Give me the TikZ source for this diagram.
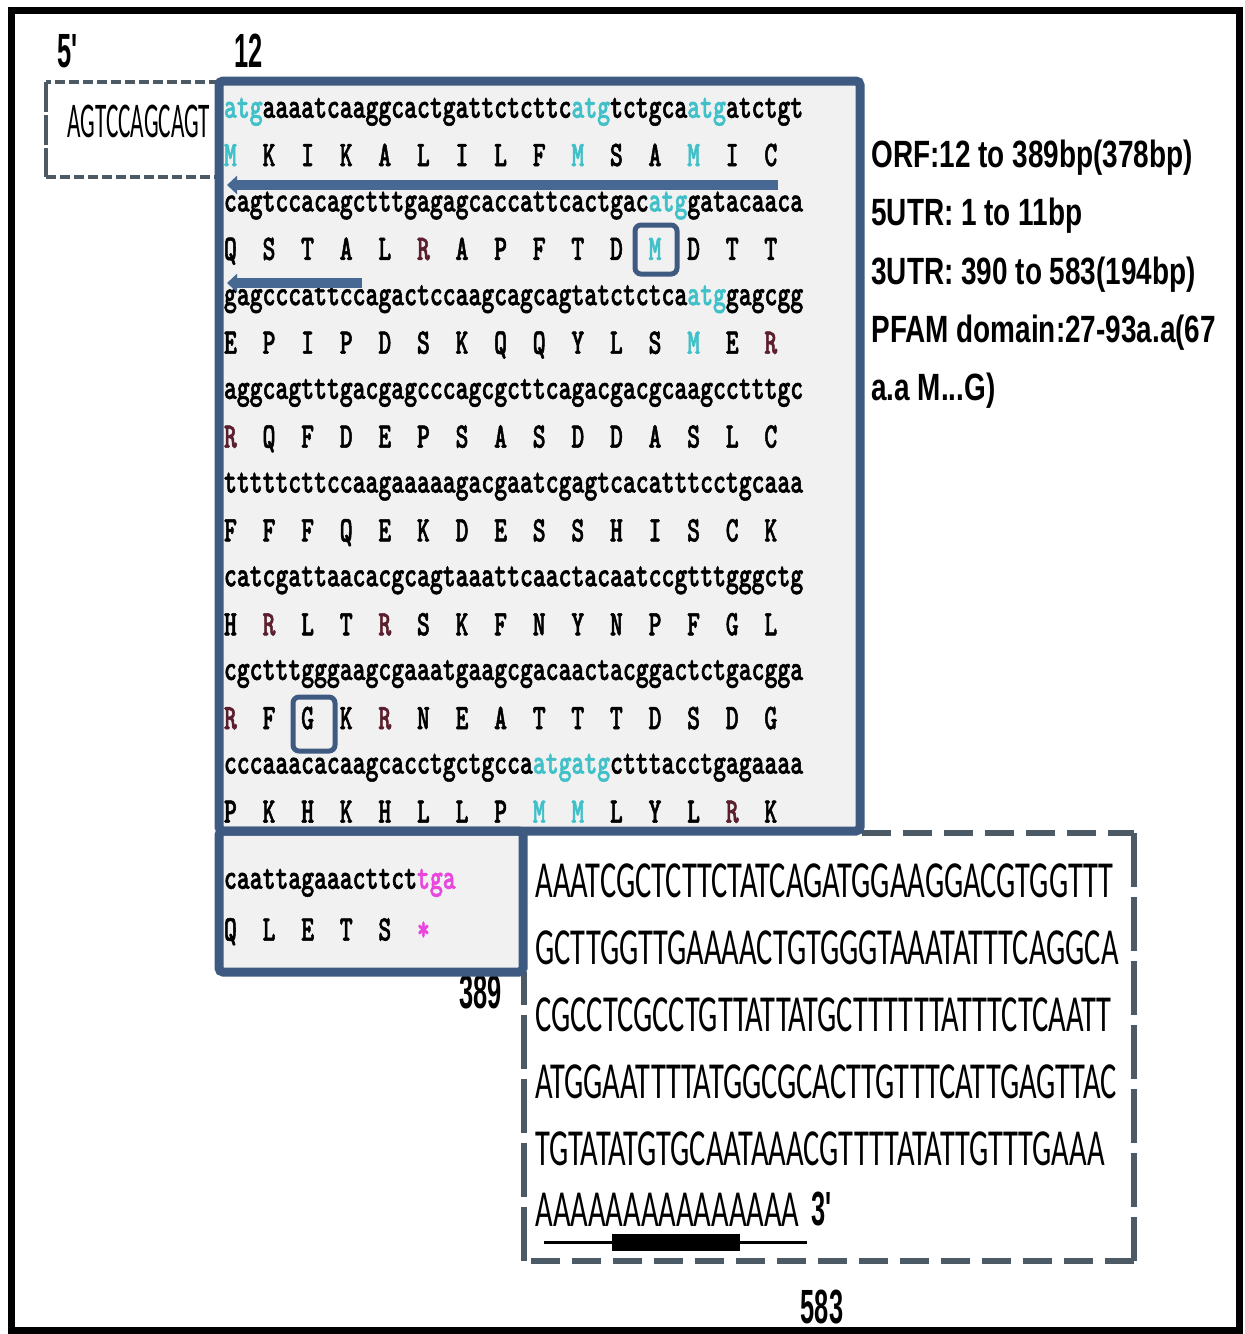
\documentclass[tikz,border=0pt]{standalone}
\usepackage{fontspec}
\usepackage{graphicx}
\usetikzlibrary{arrows.meta}
\newfontfamily\labfont[FakeStretch=0.53]{Liberation Sans}
\newfontfamily\infofont[FakeStretch=0.735]{Liberation Sans}
\newfontfamily\utrfivefont[FakeStretch=0.464]{Carlito}
\newfontfamily\utrthreefont[FakeStretch=0.585]{Carlito}
\newfontfamily\seqff[FakeStretch=0.681,FakeBold=1.4]{lmmonolt10-bold.otf}
\definecolor{boxblue}{RGB}{62,90,128}
\definecolor{arrblue}{RGB}{72,104,148}
\definecolor{dashgray}{RGB}{76,90,102}
\definecolor{tealc}{RGB}{64,192,200}
\definecolor{magc}{RGB}{232,70,222}
\definecolor{panel}{RGB}{241,241,241}
\definecolor{rcol}{RGB}{90,30,45}
\newcommand\sq[1]{{\seqff\fontsize{18}{18}\selectfont #1}}
\newcommand\tl[1]{\textcolor{tealc}{#1}}
\newcommand\tm{\textcolor{tealc}{M}}
\newcommand\rr{\textcolor{rcol}{R}}
\newcommand\st{\textcolor{magc}{*}}
\begin{document}
\begin{tikzpicture}[x=0.5pt,y=-0.5pt,
  nuc/.style={anchor=base west,inner sep=0pt,outer sep=0pt},
  aa/.style={anchor=base,inner sep=0pt,outer sep=0pt},
  lab/.style={inner sep=0pt,font=\labfont\bfseries\fontsize{24}{24}\selectfont},
  info/.style={anchor=base west,inner sep=0pt,font=\infofont\bfseries\fontsize{19}{19}\selectfont},
  utr/.style={anchor=base west,inner sep=0pt,font=\utrthreefont\fontsize{26}{26}\selectfont},
  bluebox/.style={draw=boxblue,line width=4.5pt,rounded corners=2pt},
  aabox/.style={draw=boxblue,line width=2.5pt,rounded corners=3pt},
  flow/.style={draw=arrblue,line width=5pt,-{Triangle[length=5pt,width=9pt]}},
  hdashA/.style={draw=dashgray,line width=2pt,dash pattern=on 5pt off 2pt},
  vdashA/.style={draw=dashgray,line width=2pt,dash pattern=on 15pt off 1.5pt},
  hdashB/.style={draw=dashgray,line width=3pt,dash pattern=on 14.5pt off 6pt},
  vdashB/.style={draw=dashgray,line width=3pt,dash pattern=on 27pt off 5pt}]
\fill[white] (0,0) rectangle (1245,1334);
\useasboundingbox (0,0) rectangle (1245,1334);
% panels
\fill[panel] (219,81) rectangle (860,831);
\fill[panel] (219,831) rectangle (523,972);
% 5'UTR dashed box
\draw[hdashA] (219,82) -- (46,82);
\draw[vdashA] (46,82) -- (46,177);
\draw[hdashA] (46,177) -- (219,177);
\node[anchor=base west,inner sep=0pt,font=\utrfivefont\fontsize{25}{25}\selectfont] (utr5) at (67,137) {AGTCCAGCAGT};
% 3'UTR dashed box
\draw[hdashB] (862,833) -- (1134,833);
\draw[vdashB] (1134,833) -- (1134,1261);
\draw[hdashB] (1134,1261) -- (524,1261);
\draw[vdashB] (524,1261) -- (524,972);
% labels
\node[lab,anchor=base west] (l5) at (57,67) {5'};
\node[lab,anchor=base west] (l12) at (234,67) {12};
\node[lab,anchor=base east] (l389) at (502,1008) {389};
\node[lab,anchor=base] (l583) at (822,1323) {583};
\node[lab,anchor=base west] (l3) at (811,1225) {3'};
% info text
\node[info] (i1) at (871,167) {ORF:12 to 389bp(378bp)};
\node[info] (i2) at (871,225) {5UTR: 1 to 11bp};
\node[info] (i3) at (871,284) {3UTR: 390 to 583(194bp)};
\node[info] (i4) at (871,342) {PFAM domain:27-93a.a(67};
\node[info] (i5) at (871,400) {a.a M...G)};
% nucleotide rows
\node[nuc] (n1) at (224,117.8) {\sq{\tl{atg}aaaatcaaggcactgattctcttc\tl{atg}tctgca\tl{atg}atctgt}};
\node[nuc] (n2) at (224,211.5) {\sq{cagtccacagctttgagagcaccattcactgac\tl{atg}gatacaaca}};
\node[nuc] (n3) at (224,305.2) {\sq{gagcccattccagactccaagcagcagtatctctca\tl{atg}gagcgg}};
\node[nuc] (n4) at (224,398.9) {\sq{aggcagtttgacgagcccagcgcttcagacgacgcaagcctttgc}};
\node[nuc] (n5) at (224,492.6) {\sq{tttttcttccaagaaaaagacgaatcgagtcacatttcctgcaaa}};
\node[nuc] (n6) at (224,586.3) {\sq{catcgattaacacgcagtaaattcaactacaatccgtttgggctg}};
\node[nuc] (n7) at (224,680.0) {\sq{cgctttgggaagcgaaatgaagcgacaactacggactctgacgga}};
\node[nuc] (n8) at (224,773.7) {\sq{cccaaacacaagcacctgctgcca\tl{atgatg}ctttacctgagaaaa}};
\node[nuc] (n9) at (224,888.8) {\sq{caattagaaacttct\textcolor{magc}{tga}}};
% amino acid rows
\foreach \a [count=\k from 0] in {\tm,K,I,K,A,L,I,L,F,\tm,S,A,\tm,I,C}
  \node[aa] (a1-\k) at ({230.4+38.6*\k},166) {\sq{\a}};
\foreach \a [count=\k from 0] in {Q,S,T,A,L,\rr,A,P,F,T,D,\tm,D,T,T}
  \node[aa] (a2-\k) at ({230.4+38.6*\k},259.9) {\sq{\a}};
\foreach \a [count=\k from 0] in {E,P,I,P,D,S,K,Q,Q,Y,L,S,\tm,E,\rr}
  \node[aa] (a3-\k) at ({230.4+38.6*\k},353.7) {\sq{\a}};
\foreach \a [count=\k from 0] in {\rr,Q,F,D,E,P,S,A,S,D,D,A,S,L,C}
  \node[aa] (a4-\k) at ({230.4+38.6*\k},447.6) {\sq{\a}};
\foreach \a [count=\k from 0] in {F,F,F,Q,E,K,D,E,S,S,H,I,S,C,K}
  \node[aa] (a5-\k) at ({230.4+38.6*\k},541.4) {\sq{\a}};
\foreach \a [count=\k from 0] in {H,\rr,L,T,\rr,S,K,F,N,Y,N,P,F,G,L}
  \node[aa] (a6-\k) at ({230.4+38.6*\k},635.3) {\sq{\a}};
\foreach \a [count=\k from 0] in {\rr,F,G,K,\rr,N,E,A,T,T,T,D,S,D,G}
  \node[aa] (a7-\k) at ({230.4+38.6*\k},729.1) {\sq{\a}};
\foreach \a [count=\k from 0] in {P,K,H,K,H,L,L,P,\tm,\tm,L,Y,L,\rr,K}
  \node[aa] (a8-\k) at ({230.4+38.6*\k},822.6) {\sq{\a}};
\foreach \a [count=\k from 0] in {Q,L,E,T,S,\st}
  \node[aa] (a9-\k) at ({230.4+38.6*\k},940.5) {\sq{\a}};
% boxed residues
\draw[aabox] (635,225) rectangle (677,274);
\draw[aabox] (293,697) rectangle (335,751);
% arrows
\coordinate (f1s) at (778,185);
\coordinate (f1e) at (227,185);
\coordinate (f2s) at (362,283);
\coordinate (f2e) at (227,283);
\draw[flow] (f1s) -- (f1e);
\draw[flow] (f2s) -- (f2e);
% 3'UTR sequence
\node[utr] (u1) at (535,897) {AAATCGCTCTTCTATCAGATGGAAGGACGTGGTTT};
\node[utr] (u2) at (535,964) {GCTTGGTTGAAAACTGTGGGTAAATATTTCAGGCA};
\node[utr] (u3) at (535,1031) {CGCCTCGCCTGTTATTATGCTTTTTTATTTCTCAATT};
\node[utr] (u4) at (535,1098) {ATGGAATTTTATGGCGCACTTGTTTCATTGAGTTAC};
\node[utr] (u5) at (535,1165) {TGTATATGTGCAATAAACGTTTTATATTGTTTGAAA};
\node[utr] (u6) at (535,1226) {AAAAAAAAAAAAAAA};
% polyA marker
\coordinate (pl) at (544,1242);
\coordinate (pr) at (807,1242);
\draw[line width=1.5pt] (pl) -- (pr);
\fill[black] (612,1234) rectangle (740,1251);
% blue borders
\draw[bluebox] (219,81) rectangle (860,831);
\draw[bluebox] (219,831) rectangle (523,972);
% outer frame
\draw[line width=3.5pt] (11,10) rectangle (1239,1330);
\end{tikzpicture}
\end{document}
